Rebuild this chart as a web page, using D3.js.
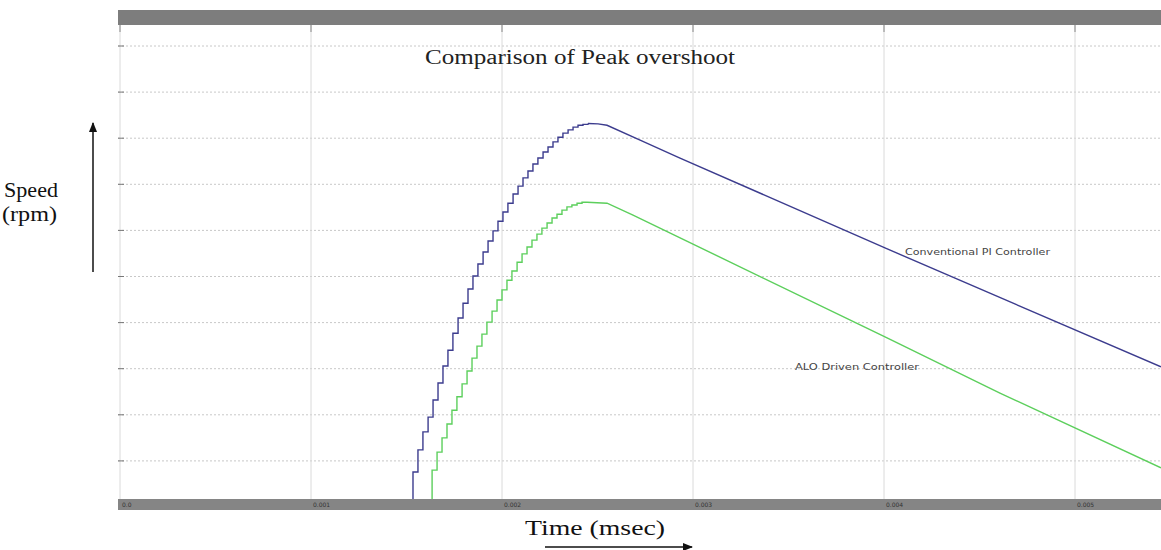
<!DOCTYPE html>
<html>
<head>
<meta charset="utf-8">
<script src="https://cdn.jsdelivr.net/npm/d3@7"></script>
<style>
  body { margin: 0; background: #fff; }
  svg { display: block; }
</style>
</head>
<body>
<div class="canvas"></div>
<script>
// time in ms, speed in rpm
const piTime = [1.508, 1.534, 1.560, 1.586, 1.613, 1.639, 1.665, 1.691, 1.717, 1.743,
  1.770, 1.796, 1.822, 1.848, 1.874, 1.901, 1.927, 1.953, 1.979, 2.005,
  2.031, 2.058, 2.084, 2.110, 2.136, 2.162, 2.188, 2.215, 2.241, 2.267,
  2.293, 2.319, 2.346, 2.372, 2.398, 2.424, 2.450];
const piSpeed = [0, 76, 124, 163, 195, 232, 269, 306, 340, 377,
  410, 442, 473, 501, 527, 553, 577, 599, 620, 640,
  659, 679, 696, 714, 729, 744, 757, 770, 781, 792,
  802, 811, 818, 824, 828, 830, 832];
const piDecayTime = [2.450, 2.503, 2.550, 2.723, 2.932, 4.005, 5.450];
const piDecaySpeed = [832, 831, 828, 796, 757, 562, 304];

const aloTime = [1.607, 1.634, 1.660, 1.686, 1.712, 1.738, 1.764, 1.791, 1.817, 1.843,
  1.869, 1.895, 1.921, 1.948, 1.974, 2.000, 2.026, 2.052, 2.079, 2.105,
  2.131, 2.157, 2.183, 2.209, 2.236, 2.262, 2.288, 2.314, 2.340, 2.366,
  2.393, 2.419, 2.445];
const aloSpeed = [0, 80, 119, 150, 180, 210, 239, 267, 295, 323,
  349, 375, 401, 425, 449, 471, 492, 512, 531, 549,
  564, 579, 592, 605, 616, 627, 635, 644, 651, 655,
  659, 661, 661];
const aloDecayTime = [2.445, 2.550, 2.686, 4.016, 4.607, 5.450];
const aloDecaySpeed = [661, 659, 633, 367, 247, 85];

const xTicks = [0, 1, 2, 3, 4, 5];
const xTickLabels = ['0.0', '0.001', '0.002', '0.003', '0.004', '0.005'];
const yTicks = [100, 200, 300, 400, 500, 600, 700, 800, 900, 1000];

const svg = d3.select('.canvas')
  .append('svg')
    .attr('width', 1161)
    .attr('height', 550);

const x = d3.scaleLinear().domain([0, 5]).range([120, 1075]);
const y = d3.scaleLinear().domain([0, 1000]).range([507, 46]);

const plotLeft = 118, plotRight = 1161, plotTop = 25, plotBottom = 499;

// grid
svg.append('g').selectAll('line')
  .data(yTicks)
  .enter().append('line')
    .attr('x1', plotLeft).attr('x2', plotRight)
    .attr('y1', d => y(d)).attr('y2', d => y(d))
    .attr('stroke', '#c8c8c8')
    .attr('stroke-dasharray', '2,2');

svg.append('g').selectAll('line')
  .data(xTicks)
  .enter().append('line')
    .attr('x1', d => x(d)).attr('x2', d => x(d))
    .attr('y1', plotTop).attr('y2', plotBottom)
    .attr('stroke', '#dadada');

// small tick marks on left edge and below top bar
svg.append('g').selectAll('line')
  .data(yTicks)
  .enter().append('line')
    .attr('x1', plotLeft).attr('x2', plotLeft + 6)
    .attr('y1', d => y(d)).attr('y2', d => y(d))
    .attr('stroke', '#777');
svg.append('g').selectAll('line')
  .data(xTicks)
  .enter().append('line')
    .attr('x1', d => x(d)).attr('x2', d => x(d))
    .attr('y1', plotTop).attr('y2', plotTop + 7)
    .attr('stroke', '#888');

// curves
const zip = (ts, ss) => ts.map((t, i) => ({t, s: ss[i]}));
const stepLine = d3.line().x(d => x(d.t)).y(d => y(d.s)).curve(d3.curveStepAfter);
const straight = d3.line().x(d => x(d.t)).y(d => y(d.s));

const series = [
  {rise: zip(piTime, piSpeed), fall: zip(piDecayTime, piDecaySpeed), color: '#3c3c8e'},
  {rise: zip(aloTime, aloSpeed), fall: zip(aloDecayTime, aloDecaySpeed), color: '#5ccf5c'}
];

series.forEach(s => {
  svg.append('path')
    .attr('d', stepLine(s.rise))
    .attr('fill', 'none')
    .attr('stroke', s.color)
    .attr('stroke-width', 1.4);
  svg.append('path')
    .attr('d', straight(s.fall))
    .attr('fill', 'none')
    .attr('stroke', s.color)
    .attr('stroke-width', 1.4);
});

// top and bottom bars
svg.append('rect')
  .attr('x', plotLeft).attr('y', 10)
  .attr('width', plotRight - plotLeft).attr('height', 15)
  .attr('fill', '#7d7d7d');
svg.append('rect')
  .attr('x', plotLeft).attr('y', plotBottom)
  .attr('width', plotRight - plotLeft).attr('height', 11)
  .attr('fill', '#858585');

// tick labels inside the bottom bar
svg.append('g').selectAll('text')
  .data(xTicks)
  .enter().append('text')
    .attr('x', d => x(d) + 2)
    .attr('y', plotBottom + 8)
    .attr('font-family', 'DejaVu Sans')
    .attr('font-size', 6)
    .attr('fill', '#333')
    .text((d, i) => xTickLabels[i]);

// text helper: stretch text to the width seen in the picture
const label = (tx, ty, str, family, size, width, color) =>
  svg.append('text')
    .attr('x', tx).attr('y', ty)
    .attr('font-family', family)
    .attr('font-size', size)
    .attr('textLength', width)
    .attr('lengthAdjust', 'spacingAndGlyphs')
    .attr('fill', color)
    .text(str);

label(425, 64, 'Comparison of Peak overshoot', 'Liberation Serif', 20, 310, '#222');
label(905, 255, 'Conventional PI Controller', 'DejaVu Sans', 9, 145, '#444');
label(795, 370, 'ALO Driven Controller', 'DejaVu Sans', 9, 124, '#444');

// axis titles and arrows
const marker = svg.append('defs').append('marker')
  .attr('id', 'arrow')
  .attr('viewBox', '0 0 10 10')
  .attr('refX', 9).attr('refY', 5)
  .attr('markerWidth', 7).attr('markerHeight', 7)
  .attr('orient', 'auto');
marker.append('path').attr('d', 'M0,1L10,5L0,9Z').attr('fill', '#111');

label(4, 197, 'Speed', 'Liberation Serif', 21, 54, '#111');
label(2, 221, '(rpm)', 'Liberation Serif', 21, 55, '#111');
svg.append('line')
  .attr('x1', 93).attr('y1', 272)
  .attr('x2', 93).attr('y2', 123)
  .attr('stroke', '#111').attr('stroke-width', 1.5)
  .attr('marker-end', 'url(#arrow)');

label(525, 535, 'Time (msec)', 'Liberation Serif', 22, 140, '#111');
svg.append('line')
  .attr('x1', 545).attr('y1', 547)
  .attr('x2', 692).attr('y2', 547)
  .attr('stroke', '#111').attr('stroke-width', 1.5)
  .attr('marker-end', 'url(#arrow)');
</script>
</body>
</html>
